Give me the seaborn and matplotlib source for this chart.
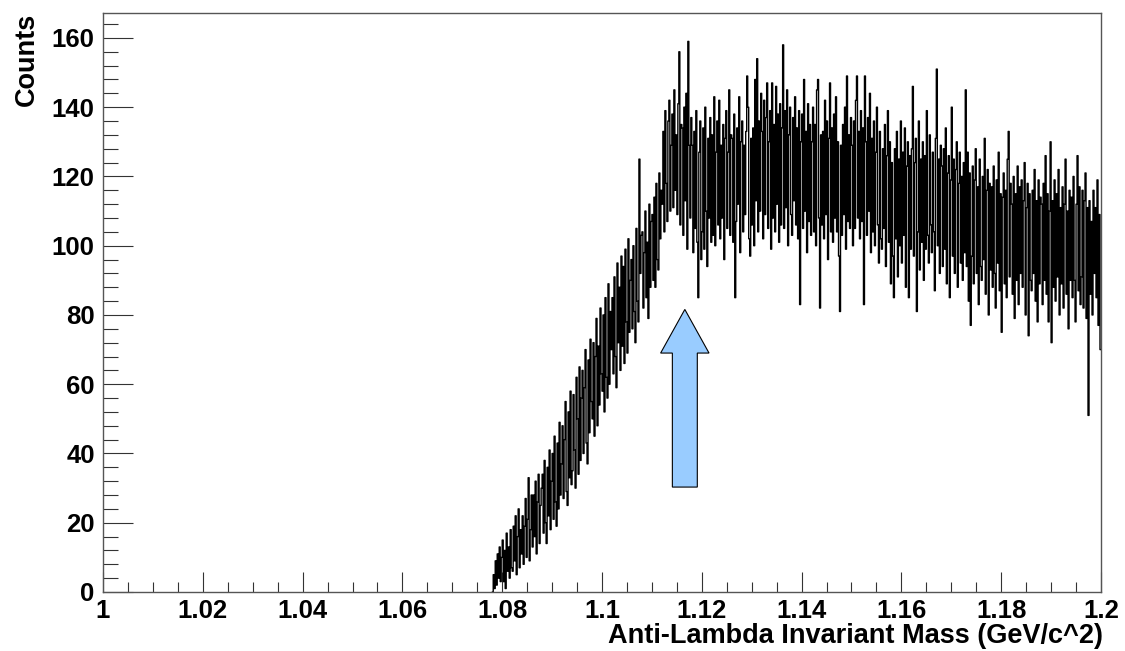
import numpy as np
import pandas as pd
import matplotlib
matplotlib.use("Agg")
import matplotlib.pyplot as plt
from matplotlib.ticker import MultipleLocator, FuncFormatter
from matplotlib.patches import FancyArrow
import seaborn as sns

# ---- data: counts per bin (bin width 0.0002 GeV/c^2, starting at 1.078) ----
bin_start = 1.078
bin_width = 0.0002
counts_rows = [
    [0, 5, 1, 9, 2, 11, 4, 13, 3, 10],
    [15, 3, 12, 1, 17, 6, 13, 4, 18, 7],
    [6, 19, 9, 22, 5, 16, 24, 7, 18, 11],
    [22, 8, 19, 27, 10, 21, 33, 9, 18, 28],
    [13, 28, 16, 32, 11, 26, 34, 14, 25, 30],
    [34, 17, 38, 20, 14, 36, 22, 41, 18, 32],
    [40, 21, 45, 26, 19, 43, 24, 49, 28, 37],
    [48, 27, 44, 55, 29, 25, 52, 33, 58, 31],
    [35, 57, 41, 30, 62, 50, 34, 65, 38, 56],
    [64, 40, 59, 70, 43, 37, 67, 46, 73, 55],
    [50, 72, 45, 68, 79, 48, 71, 54, 82, 63],
    [58, 80, 52, 85, 62, 56, 89, 60, 81, 70],
    [85, 63, 91, 68, 59, 95, 72, 88, 64, 97],
    [71, 94, 66, 99, 78, 69, 102, 75, 90, 96],
    [76, 100, 81, 72, 105, 84, 78, 125, 92, 103],
    [104, 82, 98, 110, 85, 101, 79, 112, 88, 107],
    [109, 90, 114, 88, 118, 96, 93, 121, 102, 116],
    [112, 133, 104, 139, 118, 107, 136, 142, 110, 129],
    [138, 111, 145, 116, 132, 109, 141, 156, 106, 135],
    [134, 103, 140, 113, 144, 99, 159, 129, 108, 137],
    [129, 98, 133, 105, 139, 101, 85, 127, 136, 96],
    [104, 134, 99, 140, 110, 94, 131, 108, 137, 101],
    [132, 103, 143, 100, 127, 136, 106, 142, 102, 129],
    [108, 135, 96, 131, 139, 105, 127, 145, 103, 132],
    [131, 101, 138, 85, 107, 134, 112, 143, 98, 130],
    [136, 104, 129, 109, 133, 149, 140, 102, 97, 131],
    [106, 134, 100, 148, 113, 154, 104, 136, 110, 144],
    [133, 102, 142, 109, 137, 147, 105, 130, 139, 99],
    [147, 108, 135, 104, 146, 112, 138, 101, 141, 106],
    [134, 158, 105, 139, 111, 145, 100, 132, 140, 109],
    [103, 137, 113, 143, 106, 134, 102, 139, 83, 130],
    [138, 105, 148, 110, 133, 98, 141, 107, 135, 103],
    [130, 140, 104, 135, 100, 145, 148, 108, 82, 132],
    [106, 133, 102, 142, 109, 136, 96, 131, 147, 104],
    [134, 101, 138, 108, 143, 104, 130, 97, 81, 129],
    [103, 135, 109, 140, 99, 149, 107, 132, 105, 137],
    [129, 100, 136, 105, 142, 149, 108, 133, 102, 139],
    [107, 134, 83, 149, 130, 103, 137, 110, 144, 98],
    [131, 104, 136, 100, 127, 140, 106, 95, 133, 102],
    [99, 128, 105, 135, 94, 126, 139, 101, 130, 89],
    [124, 97, 85, 128, 102, 133, 91, 125, 100, 136],
    [95, 127, 103, 134, 88, 123, 130, 85, 126, 99],
    [128, 146, 97, 124, 131, 81, 104, 136, 93, 125],
    [101, 130, 90, 126, 99, 139, 103, 95, 132, 106],
    [98, 127, 104, 87, 131, 151, 100, 125, 92, 129],
    [123, 94, 128, 99, 134, 89, 121, 126, 85, 119],
    [140, 97, 125, 92, 122, 130, 88, 118, 127, 95],
    [120, 90, 124, 98, 145, 94, 127, 84, 121, 77],
    [97, 123, 89, 119, 128, 92, 117, 83, 125, 94],
    [90, 120, 96, 131, 86, 116, 122, 80, 118, 93],
    [117, 88, 123, 92, 82, 119, 95, 127, 87, 115],
    [75, 114, 121, 89, 116, 85, 125, 133, 91, 118],
    [112, 86, 120, 79, 115, 90, 123, 83, 117, 92],
    [119, 88, 113, 124, 80, 111, 118, 74, 115, 90],
    [87, 116, 92, 122, 84, 113, 78, 119, 89, 114],
    [112, 83, 118, 90, 126, 86, 115, 78, 110, 130],
    [72, 113, 88, 119, 84, 115, 91, 122, 80, 111],
    [89, 117, 82, 112, 125, 86, 110, 76, 116, 90],
    [114, 85, 120, 90, 78, 112, 126, 87, 117, 83],
    [91, 116, 82, 113, 121, 79, 111, 51, 113, 86],
    [107, 80, 116, 92, 111, 85, 119, 77, 109, 70],
]
x_label = "Anti-Lambda Invariant Mass (GeV/c^2)"
y_label = "Counts"
x_range = (1.0, 1.2)
y_range = (0, 167.2)

# arrow annotation (data units)
arrow_x = 1.1166
arrow_y0 = 30.3
arrow_y1 = 81.6

counts = np.array([v for row in counts_rows for v in row], dtype=float)
n_bins = len(counts)
edges = bin_start + bin_width * np.arange(n_bins + 1)
centers = 0.5 * (edges[:-1] + edges[1:])
df = pd.DataFrame({"mass": centers, "counts": counts})

sns.set_style("ticks")
plt.rcParams["font.family"] = ["Liberation Sans", "DejaVu Sans"]
plt.rcParams["font.weight"] = "bold"
plt.rcParams["text.color"] = "black"
plt.rcParams["axes.labelcolor"] = "black"
plt.rcParams["xtick.labelcolor"] = "black"
plt.rcParams["ytick.labelcolor"] = "black"

fig = plt.figure(figsize=(11.25, 6.51), dpi=100)
ax = fig.add_axes([0.09156, 0.09063, 0.8871, 0.8894])

sns.histplot(data=df, x="mass", weights="counts", bins=n_bins,
             binrange=(float(edges[0]), float(edges[-1])),
             element="step", fill=False, color="black", linewidth=1.0, ax=ax)

ax.set_xlim(*x_range)
ax.set_ylim(*y_range)

ax.xaxis.set_major_locator(MultipleLocator(0.02))
ax.xaxis.set_minor_locator(MultipleLocator(0.005))
ax.yaxis.set_major_locator(MultipleLocator(20))
ax.yaxis.set_minor_locator(MultipleLocator(4))
ax.xaxis.set_major_formatter(FuncFormatter(lambda v, p: f"{v:g}"))
ax.yaxis.set_major_formatter(FuncFormatter(lambda v, p: f"{v:g}"))

ax.tick_params(axis="x", which="major", direction="in", length=14.4, width=0.8,
               color="#333333", labelcolor="black", labelsize=18.5, pad=5)
ax.tick_params(axis="x", which="minor", direction="in", length=7.2, width=0.8,
               color="#333333")
ax.tick_params(axis="y", which="major", direction="in", length=21.6, width=0.8,
               color="#333333", labelcolor="black", labelsize=18.5, pad=6)
ax.tick_params(axis="y", which="minor", direction="in", length=10.8, width=0.8,
               color="#333333")
for lab in ax.get_xticklabels() + ax.get_yticklabels():
    lab.set_fontweight("bold")

for side in ["left", "right", "top", "bottom"]:
    ax.spines[side].set_visible(True)
    ax.spines[side].set_color("#555555")
    ax.spines[side].set_linewidth(1.0)

ax.set_xlabel(x_label, fontsize=19.5, fontweight="bold", loc="right", color="black")
ax.xaxis.set_label_coords(1.002, -0.076)
ax.xaxis.label.set_verticalalignment("center")
ax.set_ylabel(y_label, fontsize=19.5, fontweight="bold", loc="top", color="black")
ax.yaxis.set_label_coords(-0.0762, 1.0)
ax.yaxis.label.set_verticalalignment("center")

arrow = FancyArrow(arrow_x, arrow_y0, 0, arrow_y1 - arrow_y0, width=0.005,
                   head_width=0.0097, head_length=12.6,
                   length_includes_head=True, facecolor="#99ccff",
                   edgecolor="black", linewidth=0.8, zorder=5)
ax.add_patch(arrow)

fig.savefig("out.png", dpi=100)
